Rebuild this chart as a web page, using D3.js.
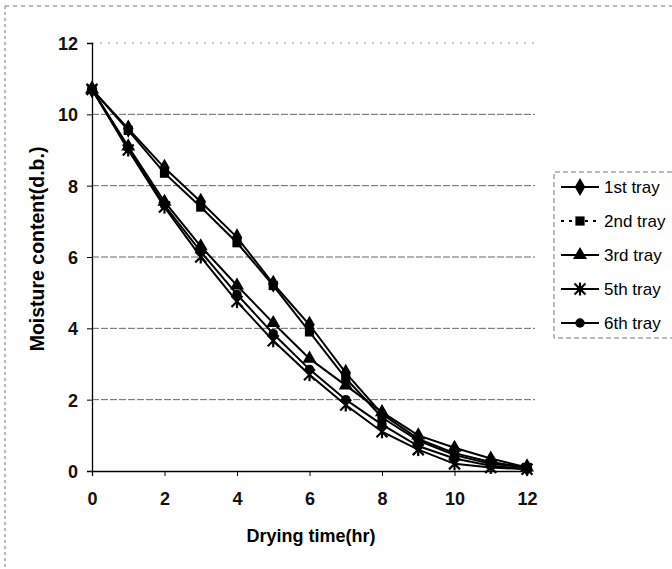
<!DOCTYPE html>
<html>
<head>
<meta charset="utf-8">
<script src="https://cdn.jsdelivr.net/npm/d3@7"></script>
<style>
  html, body { margin: 0; padding: 0; background: #fff; }
  svg { display: block; font-family: "Liberation Sans", Arial, sans-serif; }
</style>
</head>
<body>
<svg id="chart" width="672" height="569"></svg>
<script>
// Drying time (hr) and moisture content (d.b.) per tray
const hours = [0, 1, 2, 3, 4, 5, 6, 7, 8, 9, 10, 11, 12];
const tray1 = [10.7, 9.6, 8.5, 7.55, 6.55, 5.25, 4.1, 2.75, 1.6, 0.9, 0.5, 0.25, 0.1];
const tray2 = [10.7, 9.55, 8.35, 7.4, 6.4, 5.2, 3.9, 2.6, 1.5, 0.85, 0.45, 0.2, 0.1];
const tray3 = [10.7, 9.1, 7.55, 6.3, 5.2, 4.15, 3.15, 2.4, 1.65, 1.0, 0.65, 0.35, 0.1];
const tray5 = [10.7, 9.0, 7.4, 6.0, 4.75, 3.65, 2.7, 1.85, 1.1, 0.6, 0.2, 0.1, 0.05];
const tray6 = [10.7, 9.05, 7.45, 6.15, 4.95, 3.85, 2.85, 2.0, 1.3, 0.7, 0.35, 0.15, 0.05];

const seriesNames = ["1st tray", "2nd tray", "3rd tray", "5th tray", "6th tray"];
const seriesValues = [tray1, tray2, tray3, tray5, tray6];
const markerKinds = ["diamond", "square", "triangle", "star", "circle"];

const xTicks = [0, 2, 4, 6, 8, 10, 12];
const yTicks = [0, 2, 4, 6, 8, 10, 12];

const svg = d3.select("#chart");

const x = d3.scaleLinear().domain([0, 12]).range([92, 527]);
const y = d3.scaleLinear().domain([0, 12]).range([471, 43]);
const plotRight = 535;

// outer frame (dotted)
svg.append("line").attr("x1", 5).attr("x2", 5).attr("y1", 6).attr("y2", 569)
  .attr("stroke", "#777").attr("stroke-width", 1).attr("stroke-dasharray", "3,3");
svg.append("line").attr("x1", 5).attr("x2", 672).attr("y1", 6).attr("y2", 6)
  .attr("stroke", "#777").attr("stroke-width", 1).attr("stroke-dasharray", "4,4");

// horizontal gridlines
svg.append("g").selectAll("line").data(yTicks.filter(d => d > 0)).join("line")
  .attr("x1", x(0)).attr("x2", plotRight)
  .attr("y1", d => y(d)).attr("y2", d => y(d))
  .attr("stroke", d => d === 12 ? "#999" : "#666")
  .attr("stroke-width", 1)
  .attr("stroke-dasharray", d => d === 12 ? "2,6" : "7,2");

// axes
const yAxis = d3.axisLeft(y).tickValues(yTicks).tickSize(5).tickFormat(d3.format("d"));
const xAxis = d3.axisBottom(x).tickValues(xTicks).tickSize(5).tickFormat(d3.format("d"));

const gy = svg.append("g").attr("transform", `translate(${x(0)},0)`).call(yAxis);
gy.select(".domain").attr("stroke", "#000").attr("stroke-width", 1.3);
gy.selectAll(".tick line").attr("stroke", "#000");
gy.selectAll(".tick text").attr("x", -14).attr("dy", "0.36em")
  .attr("font-size", 18).attr("font-weight", "bold").attr("fill", "#111")
  .attr("font-family", "Liberation Sans, Arial, sans-serif");

const gx = svg.append("g").attr("transform", `translate(0,${y(0)})`).call(xAxis);
gx.select(".domain").attr("stroke", "#000").attr("stroke-width", 1.3);
gx.selectAll(".tick line").attr("stroke", "#000");
gx.selectAll(".tick text").attr("y", 21).attr("dy", "0.71em")
  .attr("font-size", 18).attr("font-weight", "bold").attr("fill", "#111")
  .attr("font-family", "Liberation Sans, Arial, sans-serif");

// axis titles
svg.append("text").attr("x", 311).attr("y", 542).attr("text-anchor", "middle")
  .attr("font-size", 18).attr("font-weight", "bold").text("Drying time(hr)");
svg.append("text").attr("transform", "translate(44,249) rotate(-90)")
  .attr("text-anchor", "middle").attr("font-size", 19.5).attr("font-weight", "bold")
  .text("Moisture content(d.b.)");

// marker shapes
function markerPath(kind) {
  switch (kind) {
    case "diamond": return d3.symbol(d3.symbolDiamond, 95)();
    case "square": return d3.symbol(d3.symbolSquare, 85)();
    case "triangle": return d3.symbol(d3.symbolTriangle, 85)();
    case "circle": return d3.symbol(d3.symbolCircle, 70)();
    default: return null;
  }
}
function drawMarker(g, kind, cx, cy) {
  if (kind === "star") {
    const s = 5.5;
    const m = g.append("g").attr("transform", `translate(${cx},${cy})`)
      .attr("stroke", "#000").attr("stroke-width", 2.2);
    m.append("line").attr("x1", -s).attr("y1", -s).attr("x2", s).attr("y2", s);
    m.append("line").attr("x1", -s).attr("y1", s).attr("x2", s).attr("y2", -s);
    m.append("line").attr("x1", 0).attr("y1", -s - 1).attr("x2", 0).attr("y2", s + 1);
  } else {
    g.append("path").attr("d", markerPath(kind))
      .attr("transform", `translate(${cx},${cy})`).attr("fill", "#000");
  }
}

const line = d3.line().x((d, i) => x(hours[i])).y(d => y(d));

const plot = svg.append("g");
seriesValues.forEach((vals) => {
  plot.append("path").datum(vals).attr("d", line)
    .attr("fill", "none").attr("stroke", "#000").attr("stroke-width", 2);
});
seriesValues.forEach((vals, si) => {
  const g = plot.append("g");
  vals.forEach((v, i) => drawMarker(g, markerKinds[si], x(hours[i]), y(v)));
});

// legend
const lg = svg.append("g");
lg.append("path").attr("d", "M672,172 H554 V338 H672")
  .attr("fill", "none").attr("stroke", "#777").attr("stroke-width", 1).attr("stroke-dasharray", "5,3");
seriesNames.forEach((name, i) => {
  const cy = 187 + i * 34;
  const row = lg.append("g");
  row.append("line").attr("x1", 561).attr("x2", 599).attr("y1", cy).attr("y2", cy)
    .attr("stroke", "#000").attr("stroke-width", 1.8)
    .attr("stroke-dasharray", i === 1 ? "3,5" : null);
  drawMarker(row, markerKinds[i], 580, cy);
  row.append("text").attr("x", 604).attr("y", cy).attr("dy", "0.36em")
    .attr("font-size", 17).attr("fill", "#000").text(name);
});
</script>
</body>
</html>
